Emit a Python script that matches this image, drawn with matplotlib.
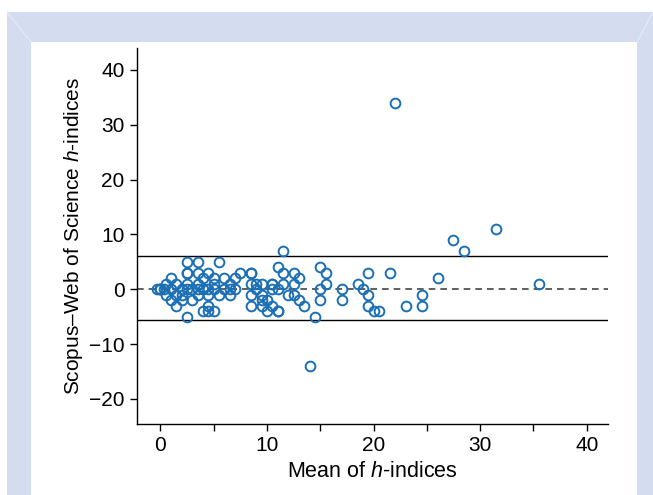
import matplotlib.pyplot as plt
from matplotlib.patches import Rectangle
from matplotlib.lines import Line2D

plt.rcParams['font.family'] = ['Liberation Sans', 'DejaVu Sans']
plt.rcParams['mathtext.fontset'] = 'custom'
plt.rcParams['mathtext.it'] = 'Liberation Sans:italic'
plt.rcParams['mathtext.rm'] = 'Liberation Sans'

# mean of the two h-indices, and Scopus minus Web of Science
mean_h = [22, 31.5, 27.5, 28.5, 35.5, 19.5, 21.5, 26, 18.5, 19, 19.5, 24.5, 19.5, 23, 24.5, 20, 20.5,
          11.5, 11, 11.5, 12.5, 13, 12.5, 11.5, 11, 12.5, 13, 13.5, 11, 14.5, 15, 15.5, 15.5, 15, 15, 17, 17, 14,
          5.5, 2.5, 3.5, 6, 7, 7.5, 5, 8.5, 8.5, 5, 6.5, 5, 6, 7, 9, 8.5, 9.5, 10.5, 10.5, 10.5,
          4.5, 5.5, 6.5, 8.5, 9.5, 9.5, 10, 4.5, 5, 4.5, 4, 8.5, 9.5, 10.5, 10, 11, 12,
          1, 2.5, 2.5, 3.5, 4.5, 0.5, 1.5, 2.5, 3.5, 4, 0, 0, 0, -0.3, 0.3, 1, 2, 2.5, 3, 3.5, 4, 4.5, 6.5,
          0.5, 1.5, 2, 3.5, 1, 2, 3, 1.5, 2.5, 9]
diff_h = [34, 11, 9, 7, 1, 3, 3, 2, 1, 0, -1, -1, -3, -3, -3, -4, -4,
          7, 4, 3, 3, 2, 1, 1, 0, -1, -2, -3, -4, -5, 4, 3, 1, 0, -2, 0, -2, -14,
          5, 5, 5, 2, 2, 3, 2, 3, 3, 1, 1, 0, 0, 0, 0, 1, 1, 1, 1, 0,
          -1, -1, -1, -1, -1, -2, -2, -3, -4, -4, -4, -3, -3, -3, -4, -4, -1,
          2, 3, 3, 3, 3, 1, 1, 1, 1, 2, 0, 0, 0, 0, 0, 0, 0, 0, 0, 0, 0, 0, 0,
          -1, -1, -1, -1, -2, -2, -2, -3, -5, 1]

mean_diff = 0
upper_loa = 6
lower_loa = -5.7

W, H = 653, 495
fig = plt.figure(figsize=(6.53, 4.95), dpi=100, facecolor='white')
# light blue frame with white panel inside
fig.patches.append(Rectangle((7 / W, 0), (W - 7) / W, (H - 12) / H,
                             transform=fig.transFigure, facecolor='#d4ddef',
                             edgecolor='none', zorder=0))
fig.patches.append(Rectangle((31 / W, 0), (637 - 31) / W, (H - 42) / H,
                             transform=fig.transFigure, facecolor='white',
                             edgecolor='none', zorder=0))
for xs, ys in [((7, 31), (12, 42)), ((653, 637), (12, 42))]:
    fig.lines.append(Line2D([x / W for x in xs], [1 - y / H for y in ys],
                            transform=fig.transFigure, color='#e6ebf6', lw=0.8))

ax = fig.add_axes([137 / W, 1 - 423.5 / H, (608 - 137) / W, (423.5 - 48) / H])
ax.set_zorder(1)
ax.set_facecolor('none')

ax.axhline(upper_loa, color='black', lw=1)
ax.axhline(lower_loa, color='black', lw=1)
ax.axhline(mean_diff, color='#444444', lw=1.2, ls=(0, (4, 3)))
ax.plot(mean_h, diff_h, 'o', mfc='none', mec='#1a6fb5', mew=1.4, ms=7)

ax.set_xlim(-2.2, 42)
ax.set_ylim(-24.5, 44)
ax.set_xticks([0, 10, 20, 30, 40])
ax.set_xticks([5, 15, 25, 35], minor=True)
ax.set_yticks([-20, -10, 0, 10, 20, 30, 40])
ax.set_yticklabels(['\u221220', '\u221210', '0', '10', '20', '30', '40'])
ax.tick_params(which='both', direction='out', length=5, width=1, labelsize=15, pad=4)

for s in ['top', 'right']:
    ax.spines[s].set_visible(False)
for s in ['left', 'bottom']:
    ax.spines[s].set_linewidth(1)

ax.set_xlabel('Mean of $\\it{h}$-indices', fontsize=15.5, labelpad=4)
ax.set_ylabel('Scopus\u2013Web of Science $\\it{h}$-indices', fontsize=15, labelpad=3)

fig.savefig('out.png', dpi=100, facecolor=fig.get_facecolor())
